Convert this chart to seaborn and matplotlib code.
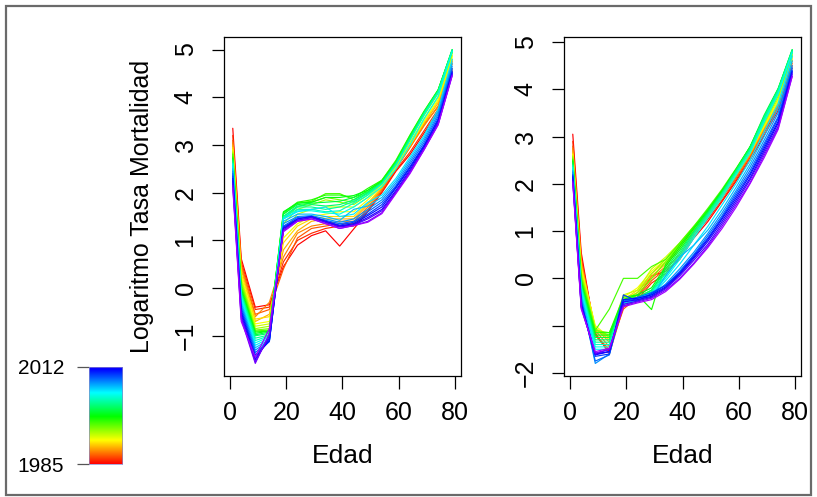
import numpy as np
import pandas as pd
import matplotlib
matplotlib.use("Agg")
import matplotlib.pyplot as plt
import matplotlib.colors as mcolors
from matplotlib.patches import Rectangle
import seaborn as sns

# ---------------- data ----------------
ages = [1, 4, 9, 14, 19, 24, 29, 34, 39, 44, 49, 54, 59, 64, 69, 74, 79]
years = list(range(1985, 2013))

# left panel: log mortality rate per year (rows = 1985..2012)
left_vals = [
    [3.35, 0.62, -0.40, -0.35, 0.45, 0.90, 1.10, 1.20, 0.88, 1.24, 1.60, 2.00, 2.45, 2.80, 3.25, 3.70, 4.55],
    [3.20, 0.55, -0.45, -0.40, 0.55, 1.00, 1.15, 1.25, 1.30, 1.30, 1.62, 2.02, 2.47, 2.85, 3.30, 3.75, 4.60],
    [3.10, 0.50, -0.55, -0.45, 0.40, 1.05, 1.25, 1.30, 1.35, 1.35, 1.65, 2.05, 2.50, 2.95, 3.43, 3.80, 4.70],
    [3.05, 0.45, -0.60, -0.30, 0.65, 1.15, 1.30, 1.35, 1.40, 1.40, 1.70, 2.08, 2.52, 2.95, 3.40, 3.82, 4.75],
    [3.00, 0.40, -0.70, -0.55, 0.80, 1.20, 1.40, 1.45, 1.45, 1.45, 1.75, 2.10, 2.55, 2.98, 3.45, 3.88, 4.78],
    [2.95, 0.30, -0.65, -0.60, 0.95, 1.30, 1.45, 1.50, 1.50, 1.50, 1.78, 2.12, 2.55, 3.00, 3.48, 3.92, 4.80],
    [2.90, 0.25, -0.75, -0.70, 1.05, 1.35, 1.50, 1.55, 1.60, 1.60, 1.85, 2.15, 2.52, 3.00, 3.50, 3.95, 4.85],
    [2.88, 0.20, -0.80, -0.75, 1.20, 1.55, 1.65, 1.70, 1.70, 1.70, 1.90, 2.18, 2.58, 3.05, 3.55, 4.00, 4.88],
    [2.85, 0.15, -0.85, -0.80, 1.35, 1.65, 1.75, 1.85, 1.80, 1.75, 1.95, 2.22, 2.62, 3.12, 3.62, 4.08, 4.92],
    [2.82, 0.10, -0.88, -0.85, 1.45, 1.70, 1.80, 1.90, 1.85, 1.80, 2.00, 2.25, 2.65, 3.18, 3.68, 4.12, 4.95],
    [2.80, 0.05, -0.90, -0.88, 1.55, 1.78, 1.82, 1.98, 1.98, 1.85, 2.05, 2.26, 2.68, 3.21, 3.71, 4.16, 5.00],
    [2.75, 0.00, -0.92, -0.90, 1.58, 1.80, 1.85, 1.95, 1.95, 1.90, 2.09, 2.26, 2.66, 3.20, 3.70, 4.15, 4.98],
    [2.72, -0.05, -0.95, -0.90, 1.60, 1.78, 1.80, 1.90, 1.90, 1.94, 2.05, 2.24, 2.64, 3.18, 3.68, 4.14, 4.97],
    [2.70, -0.08, -0.98, -0.92, 1.55, 1.75, 1.78, 1.80, 1.82, 1.90, 2.02, 2.22, 2.63, 3.17, 3.69, 4.15, 5.00],
    [2.68, -0.10, -1.00, -0.95, 1.50, 1.72, 1.75, 1.72, 1.75, 1.85, 2.00, 2.20, 2.62, 3.15, 3.68, 4.13, 4.98],
    [2.65, -0.12, -1.05, -0.98, 1.50, 1.70, 1.70, 1.65, 1.70, 1.82, 1.98, 2.20, 2.60, 3.12, 3.66, 4.12, 5.00],
    [2.62, -0.15, -1.10, -1.00, 1.48, 1.65, 1.65, 1.60, 1.62, 1.78, 1.95, 2.18, 2.58, 3.10, 3.63, 4.10, 4.98],
    [2.60, -0.20, -1.15, -1.02, 1.45, 1.62, 1.62, 1.58, 1.55, 1.70, 1.90, 2.12, 2.50, 3.00, 3.55, 4.02, 4.96],
    [2.55, -0.25, -1.20, -1.05, 1.45, 1.60, 1.65, 1.70, 1.50, 1.55, 1.80, 1.95, 2.30, 2.75, 3.20, 3.75, 4.80],
    [2.50, -0.30, -1.25, -1.08, 1.40, 1.55, 1.55, 1.50, 1.42, 1.65, 1.72, 1.90, 2.25, 2.70, 3.15, 3.70, 4.72],
    [2.45, -0.35, -1.30, -1.10, 1.35, 1.50, 1.52, 1.45, 1.38, 1.45, 1.65, 1.85, 2.20, 2.65, 3.10, 3.65, 4.65],
    [2.40, -0.40, -1.35, -1.12, 1.30, 1.48, 1.50, 1.42, 1.35, 1.40, 1.60, 1.80, 2.15, 2.60, 3.05, 3.60, 4.60],
    [2.35, -0.45, -1.40, -1.12, 1.28, 1.45, 1.50, 1.40, 1.32, 1.38, 1.55, 1.75, 2.12, 2.55, 3.00, 3.55, 4.55],
    [2.30, -0.50, -1.45, -1.10, 1.25, 1.42, 1.48, 1.38, 1.30, 1.35, 1.52, 1.70, 2.10, 2.52, 2.98, 3.52, 4.52],
    [2.25, -0.55, -1.50, -1.05, 1.25, 1.45, 1.50, 1.40, 1.30, 1.33, 1.48, 1.65, 2.05, 2.48, 2.95, 3.48, 4.50],
    [2.20, -0.60, -1.55, -1.00, 1.22, 1.42, 1.48, 1.38, 1.28, 1.32, 1.45, 1.62, 2.02, 2.45, 2.92, 3.45, 4.48],
    [2.15, -0.65, -1.58, -0.95, 1.20, 1.40, 1.45, 1.35, 1.25, 1.31, 1.40, 1.58, 2.00, 2.42, 2.90, 3.43, 4.46],
    [2.10, -0.70, -1.45, -0.85, 1.18, 1.40, 1.45, 1.35, 1.25, 1.31, 1.38, 1.56, 1.98, 2.40, 2.90, 3.42, 4.45],
]

# right panel
right_vals = [
    [3.05, 0.55, -1.20, -1.55, -0.55, -0.40, 0.05, 0.15, 0.40, 0.85, 1.20, 1.62, 2.05, 2.50, 3.02, 3.55, 4.45],
    [2.90, 0.45, -1.15, -1.60, -0.60, -0.45, -0.10, 0.10, 0.45, 0.90, 1.25, 1.65, 2.08, 2.55, 3.08, 3.60, 4.50],
    [2.80, 0.40, -1.20, -1.50, -0.65, -0.40, -0.05, 0.20, 0.50, 0.95, 1.30, 1.70, 2.12, 2.58, 3.12, 3.65, 4.55],
    [2.75, 0.35, -1.10, -1.45, -0.55, -0.35, 0.00, 0.25, 0.70, 0.95, 1.32, 1.72, 2.15, 2.60, 3.15, 3.68, 4.60],
    [2.70, 0.30, -1.05, -1.35, -0.50, -0.30, 0.05, 0.30, 0.60, 1.02, 1.35, 1.75, 2.18, 2.62, 3.18, 3.70, 4.62],
    [2.65, 0.25, -1.05, -1.30, -0.45, -0.25, 0.10, 0.35, 0.65, 1.05, 1.38, 1.78, 2.20, 2.65, 3.20, 3.72, 4.65],
    [2.62, 0.20, -1.00, -1.25, -0.40, -0.20, 0.15, 0.40, 0.70, 1.08, 1.40, 1.80, 2.22, 2.68, 3.22, 3.75, 4.68],
    [2.60, 0.15, -1.05, -1.25, -0.35, -0.25, 0.20, 0.45, 0.75, 1.10, 1.42, 1.82, 2.25, 2.70, 3.25, 3.80, 4.70],
    [2.58, 0.10, -1.10, -1.20, -0.45, -0.30, 0.10, 0.40, 0.72, 1.08, 1.45, 1.85, 2.28, 2.72, 3.28, 3.85, 4.72],
    [2.55, 0.05, -1.10, -1.15, -0.50, -0.35, 0.00, 0.35, 0.70, 1.05, 1.45, 1.85, 2.30, 2.75, 3.30, 3.90, 4.75],
    [2.52, 0.00, -1.10, -0.65, 0.00, 0.00, 0.25, 0.40, 0.75, 1.10, 1.48, 1.88, 2.32, 2.78, 3.35, 3.95, 4.78],
    [2.50, -0.05, -1.15, -1.15, -0.40, -0.35, -0.66, 0.30, 0.70, 1.08, 1.45, 1.85, 2.30, 2.78, 3.40, 4.00, 4.80],
    [2.48, -0.10, -1.20, -1.20, -0.45, -0.35, -0.20, 0.25, 0.65, 1.05, 1.42, 1.85, 2.30, 2.78, 3.42, 4.00, 4.82],
    [2.45, -0.12, -1.25, -1.25, -0.45, -0.40, -0.25, 0.20, 0.60, 1.00, 1.40, 1.82, 2.28, 2.78, 3.45, 4.02, 4.84],
    [2.42, -0.15, -1.30, -1.30, -0.50, -0.40, -0.25, 0.15, 0.55, 0.98, 1.38, 1.80, 2.28, 2.75, 3.42, 4.00, 4.84],
    [2.40, -0.18, -1.35, -1.35, -0.50, -0.42, -0.28, 0.10, 0.50, 0.95, 1.35, 1.78, 2.25, 2.72, 3.40, 3.98, 4.82],
    [2.38, -0.20, -1.40, -1.40, -0.50, -0.45, -0.30, 0.05, 0.45, 0.90, 1.32, 1.75, 2.22, 2.70, 3.35, 3.95, 4.80],
    [2.35, -0.25, -1.45, -1.45, -0.52, -0.45, -0.32, 0.00, 0.40, 0.85, 1.28, 1.70, 2.18, 2.65, 3.30, 3.90, 4.78],
    [2.30, -0.30, -1.50, -1.50, -0.55, -0.48, -0.35, -0.05, 0.30, 0.70, 1.10, 1.55, 2.00, 2.50, 3.10, 3.70, 4.70],
    [2.28, -0.35, -1.60, -1.55, -0.55, -0.45, -0.40, 0.05, 0.45, 0.70, 1.02, 1.45, 1.92, 2.42, 3.00, 3.60, 4.60],
    [2.25, -0.40, -1.80, -1.60, -0.50, -0.42, -0.35, -0.12, 0.20, 0.55, 0.95, 1.38, 1.85, 2.35, 2.92, 3.50, 4.50],
    [2.20, -0.45, -1.75, -1.62, -0.48, -0.40, -0.30, -0.15, 0.15, 0.50, 0.90, 1.32, 1.80, 2.28, 2.85, 3.42, 4.45],
    [2.18, -0.50, -1.65, -1.60, -0.35, -0.48, -0.32, -0.15, 0.12, 0.48, 0.85, 1.28, 1.75, 2.22, 2.80, 3.38, 4.40],
    [2.15, -0.55, -1.60, -1.55, -0.45, -0.42, -0.35, -0.18, 0.10, 0.45, 0.82, 1.25, 1.70, 2.18, 2.75, 3.32, 4.38],
    [2.10, -0.58, -1.62, -1.55, -0.50, -0.45, -0.38, -0.20, 0.08, 0.42, 0.78, 1.20, 1.65, 2.12, 2.70, 3.28, 4.35],
    [2.08, -0.60, -1.60, -1.50, -0.55, -0.48, -0.40, -0.22, 0.05, 0.38, 0.72, 1.15, 1.60, 2.08, 2.65, 3.22, 4.32],
    [2.05, -0.62, -1.58, -1.50, -0.58, -0.50, -0.42, -0.25, 0.00, 0.32, 0.68, 1.10, 1.55, 2.02, 2.60, 3.18, 4.28],
    [2.02, -0.65, -1.55, -1.48, -0.60, -0.52, -0.45, -0.28, -0.02, 0.30, 0.65, 1.05, 1.50, 2.00, 2.55, 3.15, 4.27],
]

xticks = [0, 20, 40, 60, 80]
left_yticks = [-1, 0, 1, 2, 3, 4, 5]
right_yticks = [-2, -1, 0, 1, 2, 3, 4, 5]
right_ylabels = ["\u22122", "", "0", "1", "2", "3", "4", "5"]
ylabel_text = "Logaritmo Tasa Mortalidad"
xlabel_text = "Edad"

# ---------------- style ----------------
sns.set_theme(style="ticks")
plt.rcParams["font.family"] = ["Liberation Sans", "DejaVu Sans"]
plt.rcParams["axes.unicode_minus"] = True
for k in ["text.color", "axes.labelcolor", "xtick.color", "ytick.color", "axes.edgecolor"]:
    plt.rcParams[k] = "black"

n = len(years)
ncol = int(round(n * 1.25))
line_colors = [mcolors.hsv_to_rgb((i / ncol, 1.0, 1.0)) for i in range(n)]
palette = {y: c for y, c in zip(years, line_colors)}


def long_df(vals):
    rows = []
    for y, row in zip(years, vals):
        for a, v in zip(ages, row):
            rows.append({"Edad": a, "valor": v, "year": y})
    return pd.DataFrame(rows)


W, H = 817, 497
fig = plt.figure(figsize=(W / 100, H / 100), dpi=100)


def fx(px):
    return px / W


def fy(py):
    return 1 - py / H


axL = fig.add_axes([fx(224), fy(376), fx(461) - fx(224), fy(37) - fy(376)])
axR = fig.add_axes([fx(564), fy(376), fx(801) - fx(564), fy(37) - fy(376)])

for ax, vals in [(axL, left_vals), (axR, right_vals)]:
    df = long_df(vals)
    sns.lineplot(data=df, x="Edad", y="valor", hue="year", palette=palette,
                 hue_order=years, estimator=None, sort=False, legend=False,
                 linewidth=0.85, ax=ax)
    arr = np.array(vals)
    lo, hi = arr.min(), arr.max()
    pad = 0.04 * (hi - lo)
    ax.set_ylim(lo - pad, hi + pad)
    xpad = 0.04 * (max(ages) - min(ages))
    ax.set_xlim(min(ages) - xpad, max(ages) + xpad)
    ax.set_xticks(xticks)
    ax.set_xlabel(xlabel_text, fontsize=19, labelpad=14, color="black")
    ax.set_ylabel("")
    for s in ax.spines.values():
        s.set_visible(True)
        s.set_color("black")
        s.set_linewidth(0.9)
    ax.tick_params(axis="both", direction="out", length=9, width=0.9,
                   color="black", labelcolor="black", labelsize=18, pad=9)
    ax.tick_params(axis="y", labelrotation=90, pad=10)
    ax.set_facecolor("white")

axL.set_yticks(left_yticks)
axL.set_yticklabels([("\u2212%d" % -t) if t < 0 else str(t) for t in left_yticks])
for lab in axL.get_yticklabels():
    lab.set_va("center")
axR.set_yticks(right_yticks)
axR.set_yticklabels(right_ylabels)
for lab in axR.get_yticklabels():
    lab.set_va("center")
axL.set_ylabel(ylabel_text, fontsize=18, labelpad=14, color="black")

# colour bar legend
axC = fig.add_axes([fx(89), fy(464), fx(122) - fx(89), fy(367) - fy(464)])
grad = np.linspace(0, 1, 256)
bar_rgb = np.array([mcolors.hsv_to_rgb((0.68 * g, 1.0, 1.0)) for g in grad])
axC.imshow(bar_rgb[:, None, :], aspect="auto", origin="lower",
           extent=[0, 1, years[0], years[-1]], interpolation="bilinear")
axC.set_xlim(0, 1)
axC.set_ylim(years[0], years[-1])
axC.set_xticks([])
axC.set_yticks([years[0], years[-1]])
axC.set_yticklabels([str(years[0]), str(years[-1])])
axC.tick_params(axis="y", length=9, width=0.9, color="#555555", labelcolor="black",
                labelsize=15, pad=9)
for s in axC.spines.values():
    s.set_color("#8888cc")
    s.set_linewidth(0.5)

# outer frame
fig.patches.append(Rectangle((fx(5.5), fy(495)), fx(811) - fx(5.5), fy(5.5) - fy(495),
                             transform=fig.transFigure, fill=False,
                             edgecolor="#6a6a6a", linewidth=1.6))

fig.savefig("out.png", dpi=100, facecolor="white")
